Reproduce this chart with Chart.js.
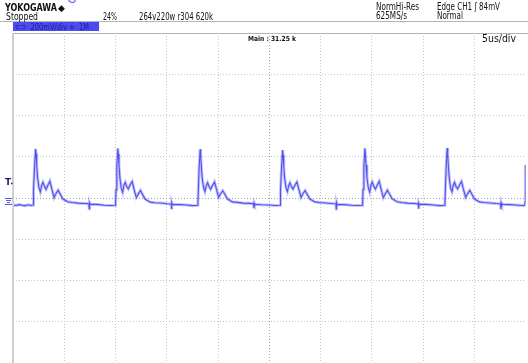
<!DOCTYPE html>
<html>
<head>
<meta charset="utf-8">
<script src="https://cdn.jsdelivr.net/npm/chart.js@4/dist/chart.umd.min.js"></script>
<style>
  html, body { margin: 0; padding: 0; background: #fff; }
  #c { display: block; }
</style>
</head>
<body>
<canvas id="c" width="528" height="363"></canvas>
<script>
// Scope settings (10 x 8 divisions)
const timeDivUs = 5;
const voltDivMv = 200;
const timeDivs = 10;
const voltDivs = 8;

// CH1 trace, [time us, mV]
const leadIn = [
  [0.00, -34], [0.30, -36], [0.60, -32], [0.90, -35], [1.20, -37], [1.50, -33], [1.75, -36]
];
const pulse1 = [
  [1.96, -34], [1.98, -28], [2.02, 35], [2.10, 150], [2.20, 238], [2.25, 215], [2.31, 160],
  [2.40, 100], [2.53, 50], [2.67, 30], [2.80, 62], [2.92, 76], [3.06, 58], [3.22, 42],
  [3.40, 62], [3.60, 82], [3.78, 45], [4.00, 2], [4.20, 22], [4.40, 38], [4.60, 20],
  [4.85, -4], [5.34, -18], [5.80, -22], [6.40, -25], [7.00, -27], [7.40, -28], [7.44, -52],
  [7.47, -24], [7.52, -30], [8.20, -31], [8.90, -35], [9.50, -36], [9.99, -35]
];
const pulse2 = [
  [10.01, -28], [10.05, 40], [10.13, 152], [10.23, 240], [10.28, 212], [10.34, 158],
  [10.43, 98], [10.56, 48], [10.70, 28], [10.83, 64], [10.95, 76], [11.09, 56], [11.25, 44],
  [11.43, 64], [11.63, 80], [11.81, 42], [12.03, 2], [12.23, 20], [12.43, 37], [12.63, 18],
  [12.88, -5], [13.37, -20], [13.83, -23], [14.43, -24], [15.03, -28], [15.43, -29], [15.47, -54],
  [15.50, -22], [15.55, -31], [16.23, -32], [16.93, -34], [17.53, -37], [18.02, -35]
];
const pulse3 = [
  [18.04, -27], [18.08, 38], [18.16, 148], [18.26, 236], [18.31, 210], [18.37, 156],
  [18.46, 96], [18.59, 52], [18.73, 32], [18.86, 60], [18.98, 74], [19.12, 57], [19.28, 42],
  [19.46, 60], [19.66, 78], [19.84, 44], [20.06, 3], [20.26, 21], [20.46, 35], [20.66, 19],
  [20.91, -4], [21.40, -19], [21.86, -21], [22.46, -25], [23.06, -26], [23.46, -28], [23.50, -50],
  [23.53, -24], [23.58, -30], [24.26, -33], [24.96, -34], [25.56, -36], [26.06, -35]
];
const pulse4 = [
  [26.08, -28], [26.12, 36], [26.20, 146], [26.30, 232], [26.35, 208], [26.41, 155],
  [26.50, 97], [26.63, 50], [26.77, 31], [26.90, 60], [27.02, 74], [27.16, 55], [27.32, 43],
  [27.50, 62], [27.70, 78], [27.88, 43], [28.10, 3], [28.30, 22], [28.50, 36], [28.70, 18],
  [28.95, -4], [29.44, -19], [29.90, -22], [30.50, -24], [31.10, -27], [31.50, -28], [31.54, -53],
  [31.57, -23], [31.62, -31], [32.30, -32], [33.00, -35], [33.60, -36], [34.09, -35]
];
const pulse5 = [
  [34.11, -28], [34.15, 41], [34.23, 153], [34.33, 241], [34.38, 214], [34.44, 160],
  [34.53, 99], [34.66, 51], [34.80, 29], [34.93, 63], [35.05, 77], [35.19, 57], [35.35, 43],
  [35.53, 62], [35.73, 81], [35.91, 44], [36.13, 2], [36.33, 21], [36.53, 38], [36.73, 19],
  [36.98, -3], [37.47, -18], [37.93, -22], [38.53, -25], [39.13, -27], [39.53, -29], [39.57, -52],
  [39.60, -24], [39.65, -30], [40.33, -31], [41.03, -34], [41.63, -37], [42.12, -35]
];
const pulse6 = [
  [42.14, -28], [42.18, 39], [42.26, 151], [42.36, 242], [42.41, 213], [42.47, 158],
  [42.56, 98], [42.69, 49], [42.83, 30], [42.96, 62], [43.08, 76], [43.22, 56], [43.38, 44],
  [43.56, 63], [43.76, 80], [43.94, 43], [44.16, 3], [44.36, 22], [44.56, 37], [44.76, 19],
  [45.01, -4], [45.50, -19], [45.96, -22], [46.56, -24], [47.16, -27], [47.56, -28], [47.60, -54],
  [47.63, -23], [47.68, -30], [48.36, -32], [49.06, -34], [49.66, -36], [49.93, -35],
  [49.96, -20], [49.99, 60], [50.00, 160]
];

const trace = [leadIn, pulse1, pulse2, pulse3, pulse4, pulse5, pulse6]
  .flat()
  .map(p => ({ x: p[0], y: p[1] }));

const tMax = timeDivUs * timeDivs;
const vMax = voltDivMv * voltDivs / 2;

function gridColor(ctx, min, max, mid) {
  const v = ctx.tick.value;
  if (v === min || v === max) return 'rgba(0,0,0,0)';
  return v === mid ? '#a2a2a2' : '#c4c4c4';
}

// Header, markers and frame, like the scope screen
const scopeDecor = {
  id: 'scopeDecor',
  beforeDraw(chart) {
    const ctx = chart.ctx;
    ctx.save();
    ctx.fillStyle = '#fff';
    ctx.fillRect(0, 0, chart.width, chart.height);
    ctx.restore();
  },
  afterDraw(chart) {
    const ctx = chart.ctx;
    const a = chart.chartArea;
    const yS = chart.scales.y;
    ctx.save();

    // frame
    ctx.strokeStyle = '#b4b4b4';
    ctx.lineWidth = 1;
    ctx.beginPath();
    ctx.moveTo(0, 21.5); ctx.lineTo(chart.width, 21.5);
    ctx.moveTo(a.left, a.top + 0.5); ctx.lineTo(chart.width, a.top + 0.5);
    ctx.stroke();
    ctx.strokeStyle = '#cfcfcf';
    ctx.lineWidth = 2;
    ctx.beginPath();
    ctx.moveTo(a.left, a.top); ctx.lineTo(a.left, a.bottom);
    ctx.stroke();

    // header text
    ctx.fillStyle = '#111';
    ctx.textBaseline = 'alphabetic';
    ctx.font = 'bold 10px "Liberation Sans Narrow", "DejaVu Sans Condensed", sans-serif';
    ctx.fillText('YOKOGAWA', 5, 11, 52);
    ctx.font = '9px "DejaVu Sans", sans-serif';
    ctx.fillText('\u25C6', 58, 11);
    ctx.strokeStyle = '#7a4cff';
    ctx.lineWidth = 1.2;
    ctx.beginPath();
    ctx.arc(72, -1, 3.5, 0.1, Math.PI - 0.1);
    ctx.stroke();

    ctx.font = '10px "Liberation Sans Narrow", "DejaVu Sans Condensed", sans-serif';
    ctx.fillText('Stopped', 6, 20, 32);
    ctx.fillText('24%', 103, 20, 14);
    ctx.fillText('264v220w r304 620k', 139, 20, 74);
    ctx.fillText('NormHi-Res', 376, 10, 43);
    ctx.fillText('625MS/s', 376, 19, 31);
    ctx.fillText('Edge CH1 \u0283 84mV', 437, 10, 63);
    ctx.fillText('Normal', 437, 19, 26);

    // channel bar
    ctx.fillStyle = '#4a4cf2';
    ctx.fillRect(13, 22, 86, 9);
    ctx.fillStyle = '#1b1d8c';
    ctx.font = '9px "Liberation Sans Narrow", "DejaVu Sans Condensed", sans-serif';
    ctx.fillText('\u2282\u2283  200mV/div \u225F  1M', 15, 30, 74);

    // main / timebase
    ctx.fillStyle = '#111';
    ctx.font = 'bold 7px "DejaVu Sans Condensed", sans-serif';
    ctx.fillText('Main : 31.25 k', 248, 41, 48);
    ctx.font = '11px "Liberation Sans Narrow", "DejaVu Sans Condensed", sans-serif';
    ctx.fillText('5us/div', 482, 42, 34);

    // trigger level marker and ground marker
    ctx.fillStyle = '#1c1c7a';
    ctx.font = 'bold 9px "DejaVu Sans", sans-serif';
    ctx.fillText('T', 5, yS.getPixelForValue(84) + 4, 7);
    ctx.fillRect(11, yS.getPixelForValue(84) + 2, 1.5, 1.5);
    const gy = yS.getPixelForValue(-34);
    ctx.strokeStyle = '#5a5ae6';
    ctx.lineWidth = 1;
    ctx.beginPath();
    ctx.moveTo(5, gy - 6.5); ctx.lineTo(12, gy - 6.5);
    ctx.moveTo(6, gy - 4.5); ctx.lineTo(11, gy - 4.5);
    ctx.moveTo(7, gy - 2.5); ctx.lineTo(10, gy - 2.5);
    ctx.moveTo(5, gy - 0.5); ctx.lineTo(12, gy - 0.5);
    ctx.stroke();

    ctx.restore();
  }
};

new Chart(document.getElementById('c'), {
  type: 'line',
  data: {
    datasets: [
      {
        data: trace,
        borderColor: 'rgba(120, 120, 255, 0.45)',
        borderWidth: 3,
        pointRadius: 0,
        tension: 0
      },
      {
        data: trace,
        borderColor: '#3434d6',
        borderWidth: 1.1,
        pointRadius: 0,
        tension: 0
      }
    ]
  },
  options: {
    responsive: false,
    animation: false,
    devicePixelRatio: 1,
    layout: { padding: { left: 13, top: 33, right: 2.5, bottom: 0 } },
    scales: {
      x: {
        type: 'linear',
        min: 0,
        max: tMax,
        ticks: { display: false, stepSize: timeDivUs },
        grid: {
          drawTicks: false,
          lineWidth: 1,
          color: ctx => gridColor(ctx, 0, tMax, tMax / 2)
        },
        border: { display: false, dash: [1, 2] }
      },
      y: {
        min: -vMax,
        max: vMax,
        ticks: { display: false, stepSize: voltDivMv },
        grid: {
          drawTicks: false,
          lineWidth: 1,
          color: ctx => gridColor(ctx, -vMax, vMax, 0)
        },
        border: { display: false, dash: [1, 2] }
      }
    },
    plugins: {
      legend: { display: false },
      tooltip: { enabled: false }
    }
  },
  plugins: [scopeDecor]
});
</script>
</body>
</html>
